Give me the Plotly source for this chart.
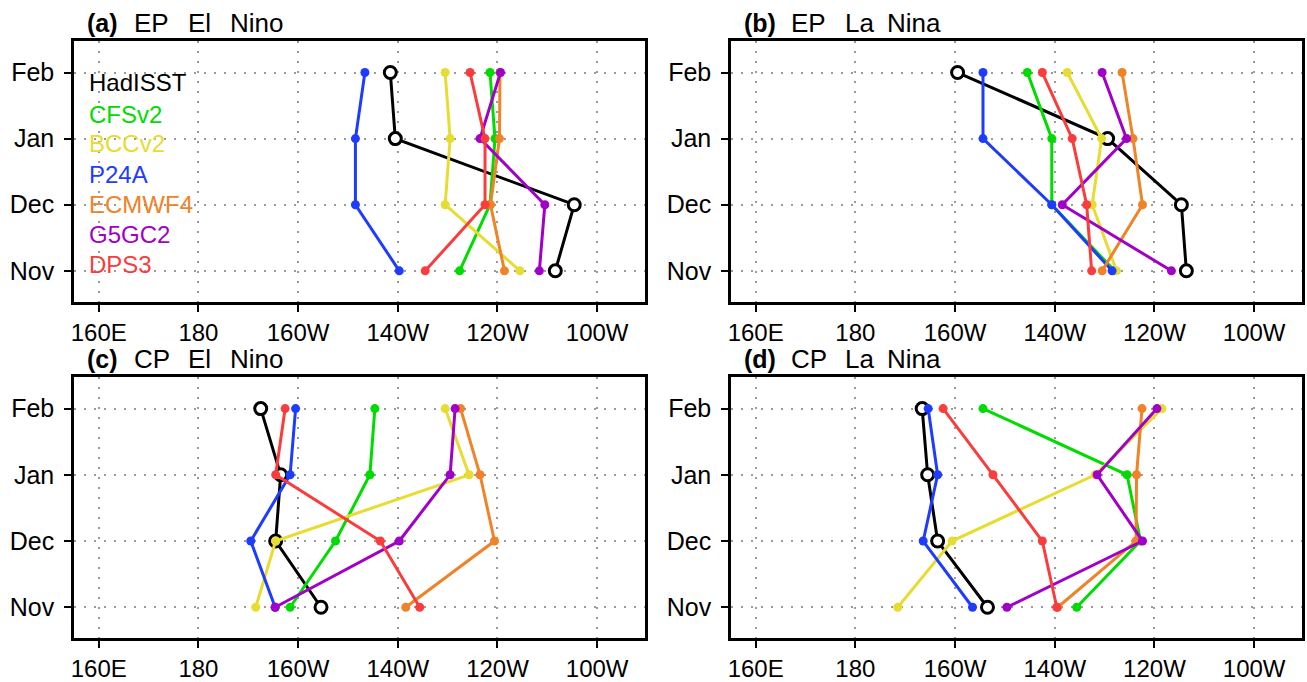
import plotly.graph_objects as go

months = ["Nov", "Dec", "Jan", "Feb"]
month_pos = [1, 2, 3, 4]
lon_ticks = [160, 180, 200, 220, 240, 260]
lon_labels = ["160E", "180", "160W", "140W", "120W", "100W"]

models = ["HadISST", "CFSv2", "BCCv2", "P24A", "ECMWF4", "G5GC2", "DPS3"]
colors = ["#000000", "#00dc00", "#e6dc32", "#1e3cff", "#f08228", "#a000c8", "#fa3c3c"]

# longitude (degrees east) for Nov, Dec, Jan, Feb
ep_nino = {
    "HadISST": [251.6, 255.4, 219.5, 218.5],
    "CFSv2":   [232.4, 238.5, 239.5, 238.5],
    "BCCv2":   [244.5, 229.5, 230.5, 229.5],
    "P24A":    [220.3, 211.5, 211.5, 213.4],
    "ECMWF4":  [241.4, 238.6, 240.4, 240.5],
    "G5GC2":   [248.4, 249.5, 236.5, 240.6],
    "DPS3":    [225.5, 237.5, 237.5, 234.5],
}
ep_nina = {
    "HadISST": [246.4, 245.4, 230.6, 200.5],
    "CFSv2":   [232.0, 219.4, 219.4, 214.5],
    "BCCv2":   [232.4, 227.5, 229.4, 222.5],
    "P24A":    [231.5, 219.4, 205.6, 205.6],
    "ECMWF4":  [229.5, 237.6, 235.7, 233.5],
    "G5GC2":   [243.4, 221.5, 234.4, 229.5],
    "DPS3":    [227.4, 226.4, 223.5, 217.5],
}
cp_nino = {
    "HadISST": [204.6, 195.5, 196.5, 192.5],
    "CFSv2":   [198.4, 207.5, 214.4, 215.4],
    "BCCv2":   [191.5, 195.5, 234.3, 229.5],
    "P24A":    [195.4, 190.5, 198.4, 199.5],
    "ECMWF4":  [221.6, 239.4, 236.5, 232.6],
    "G5GC2":   [195.4, 220.3, 230.5, 231.5],
    "DPS3":    [224.4, 216.5, 195.5, 197.4],
}
cp_nina = {
    "HadISST": [206.5, 196.5, 194.5, 193.4],
    "CFSv2":   [224.4, 237.2, 234.5, 205.6],
    "BCCv2":   [188.5, 199.4, 228.1, 241.5],
    "P24A":    [203.5, 193.6, 196.5, 194.6],
    "ECMWF4":  [220.6, 236.3, 236.4, 237.5],
    "G5GC2":   [210.4, 237.6, 228.5, 240.5],
    "DPS3":    [220.4, 217.5, 207.6, 197.6],
}

panel_tags = ["(a)", "(b)", "(c)", "(d)"]
panel_titles = [["EP", "El", "Nino"], ["EP", "La", "Nina"], ["CP", "El", "Nino"], ["CP", "La", "Nina"]]
panels = [ep_nino, ep_nina, cp_nino, cp_nina]

W, H = 1307, 682
FONT = "Liberation Sans"

# panel frames in pixels (left, right, top, bottom)
frames = [(70.5, 643, 41.2, 305), (729.5, 1302, 41.2, 305),
          (70.5, 643, 380.7, 645), (729.5, 1302, 380.7, 645)]

fig = go.Figure()
layout = dict(width=W, height=H, margin=dict(l=0, r=0, t=0, b=0),
              paper_bgcolor="white", plot_bgcolor="white", showlegend=False)

annotations = []
for i, (data, fr) in enumerate(zip(panels, frames)):
    n = "" if i == 0 else str(i + 1)
    xa, ya = "x" + n, "y" + n
    l, r, t, b = fr
    layout["xaxis" + n] = dict(
        domain=[l / W, r / W], range=[155.1, 269.6], anchor=ya,
        tickvals=lon_ticks, ticktext=lon_labels, ticks="outside", ticklen=7, tickwidth=2,
        tickcolor="black", showline=True, mirror=True, linewidth=3, linecolor="black",
        showgrid=True, gridcolor="#9a9a9a", griddash="2px,8px", gridwidth=1.6,
        zeroline=False, tickfont=dict(family=FONT, size=24, color="black"),
        ticklabelstandoff=0)
    layout["yaxis" + n] = dict(
        domain=[1 - b / H, 1 - t / H], range=[0.53, 4.48], anchor=xa,
        tickvals=month_pos, ticktext=months, ticks="outside", ticklen=7, tickwidth=2,
        tickcolor="black", showline=True, mirror=True, linewidth=3, linecolor="black",
        showgrid=True, gridcolor="#9a9a9a", griddash="2px,8px", gridwidth=1.6,
        zeroline=False, tickfont=dict(family=FONT, size=25, color="black"),
        ticklabelstandoff=5)
    for m, c in zip(models, colors):
        if m == "HadISST":
            marker = dict(symbol="circle", size=12, color="white",
                          line=dict(color="black", width=3))
        else:
            marker = dict(symbol="circle", size=9, color=c, line=dict(width=0))
        fig.add_trace(go.Scatter(x=data[m], y=month_pos, mode="lines+markers",
                                 line=dict(color=c, width=3), marker=marker,
                                 xaxis=xa, yaxis=ya, name=m, cliponaxis=False))
    # titles
    ty = 1 - (t - 18) / H
    annotations.append(dict(text="<b>" + panel_tags[i] + "</b>", x=(l + 11) / W, y=ty,
                            xref="paper", yref="paper", xanchor="left", yanchor="middle",
                            showarrow=False, font=dict(family=FONT, size=25, color="black")))
    words = panel_titles[i]
    offs = [58, 112, 154]
    for w_, o in zip(words, offs):
        annotations.append(dict(text=w_, x=(l + o) / W, y=ty, xref="paper", yref="paper",
                                xanchor="left", yanchor="middle", showarrow=False,
                                font=dict(family=FONT, size=26, color="black")))

# model name labels inside panel (a)
label_y = [3.85, 3.37, 2.93, 2.45, 2.0, 1.55, 1.1]
for m, c, yy in zip(models, colors, label_y):
    annotations.append(dict(text=m, x=157.6, y=yy, xref="x", yref="y", xanchor="left",
                            yanchor="middle", showarrow=False,
                            font=dict(family=FONT, size=24, color=c)))

layout["annotations"] = annotations
fig.update_layout(**layout)
fig.write_html("out.html", config={"displayModeBar": False},
               post_script="document.body.style.margin='0';document.body.style.overflow='hidden';")
